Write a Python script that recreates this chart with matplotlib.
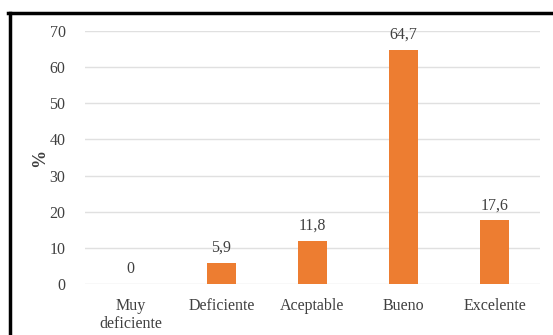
import matplotlib
matplotlib.use("Agg")
import matplotlib.pyplot as plt
from matplotlib.lines import Line2D

categories = ["Muy\ndeficiente", "Deficiente", "Aceptable", "Bueno", "Excelente"]
values = [0, 5.9, 11.8, 64.7, 17.6]
value_labels = ["0", "5,9", "11,8", "64,7", "17,6"]
yticks = [0, 10, 20, 30, 40, 50, 60, 70]

plt.rcParams['font.family'] = ['Liberation Serif', 'DejaVu Serif']

fig = plt.figure(figsize=(5.53, 3.35), dpi=100)
ax = fig.add_axes([85/553, 1-284/335, 455/553, 253/335])

x = range(len(categories))
ax.bar(x, values, width=0.31, color="#ED7D31", zorder=3)
for xi, v, lab in zip(x, values, value_labels):
    ax.text(xi, v + 2.0, lab, ha="center", va="bottom", fontsize=11.5, color="#404040")

ax.set_xlim(-0.5, len(categories) - 0.5)
ax.set_ylim(0, 70)
ax.set_yticks(yticks)
ax.set_yticklabels([str(t) for t in yticks], fontsize=11.5, color="#404040")
ax.set_xticks(list(x))
ax.set_xticklabels(categories, fontsize=11.5, color="#404040", linespacing=1.15)
ax.tick_params(axis="y", length=0, pad=14)
ax.tick_params(axis="x", length=0, pad=10)
ax.yaxis.grid(True, color="#e0e0e0", linewidth=1, zorder=0)
for s in ax.spines.values():
    s.set_visible(False)
ax.set_ylabel("%", fontsize=13, fontweight="bold", color="#404040")
ax.yaxis.set_label_coords(-0.08, 0.5)

# outer frame (left and top edges only visible)
fig.add_artist(Line2D([9.5/553, 9.5/553], [0, 1-13/335], color="black", linewidth=2.5, transform=fig.transFigure))
fig.add_artist(Line2D([8/553, 1], [1-13/335, 1-13/335], color="black", linewidth=2.5, transform=fig.transFigure))

fig.savefig("out.png", dpi=100)
